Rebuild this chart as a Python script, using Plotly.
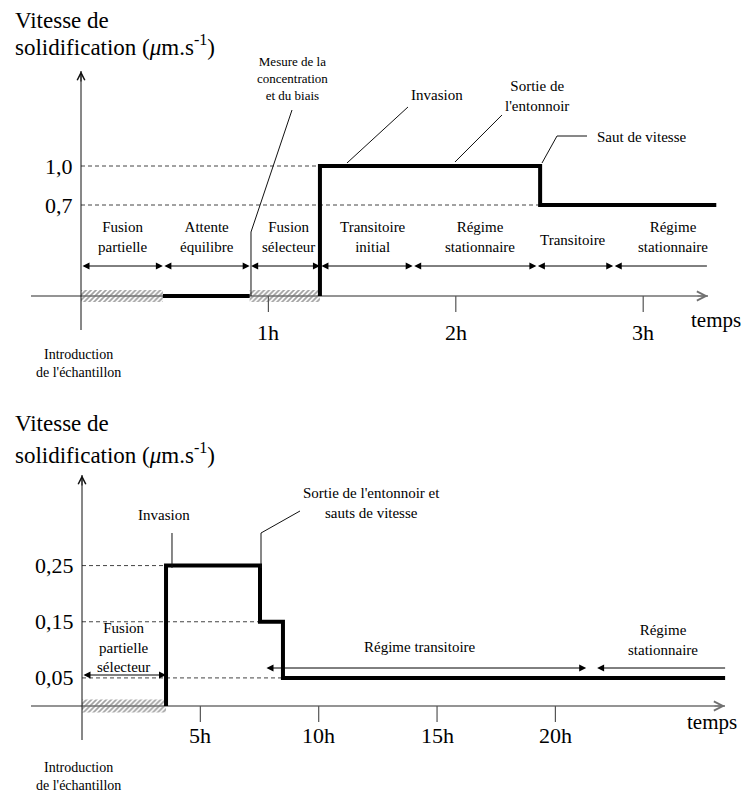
import plotly.graph_objects as go

W, H = 747, 792
FONT = "Liberation Serif, Times New Roman, serif"

# ---------------- top panel data (time in hours, speed in µm/s) ----------------
top_tick_hours = [1, 2, 3]
top_tick_labels = ["1h", "2h", "3h"]
top_levels = [1.0, 0.7]
top_level_labels = ["1,0", "0,7"]
top_level_reach = [1.275, 2.45]
top_wait_t = [0.437, 0.90]
top_wait_v = [0.0, 0.0]
top_run_t = [1.275, 1.275, 2.45, 3.39]
top_run_v = [0.0, 1.0, 0.7, 0.7]
top_melt_start = [0.0, 0.90]
top_melt_end = [0.437, 1.275]
top_phase_bounds = [0.0, 0.437, 0.90, 1.275, 1.77, 2.43, 2.84, 3.34]
top_phase_names = ["Fusion<br>partielle", "Attente<br>équilibre", "Fusion<br>sélecteur",
                   "Transitoire<br>initial", "Régime<br>stationnaire", "Transitoire",
                   "Régime<br>stationnaire"]
top_phase_centers = [0.219, 0.672, 1.105, 1.558, 2.129, 2.625, 3.159]

# ---------------- bottom panel data ----------------
bot_tick_hours = [5, 10, 15, 20]
bot_tick_labels = ["5h", "10h", "15h", "20h"]
bot_levels = [0.25, 0.15, 0.05]
bot_level_labels = ["0,25", "0,15", "0,05"]
bot_level_reach = [3.55, 7.52, 8.49]
bot_run_t = [3.55, 3.55, 7.52, 8.49, 27.17]
bot_run_v = [0.0, 0.25, 0.15, 0.05, 0.05]
bot_melt_start = [0.0]
bot_melt_end = [3.55]
bot_phase_start = [0.0, 7.73, 21.7]
bot_phase_end = [3.55, 21.3, 27.17]
bot_phase_names = ["Fusion<br>partielle<br>sélecteur", "Régime transitoire", "Régime<br>stationnaire"]
bot_phase_centers = [1.77, 14.28, 24.55]

# ---------------- geometry (pixels) ----------------
P_TOP = dict(xa="x", ya="y", x0=81, xs=187.4, y0=296, ys=130, dom=(0, 380),
             xaxis_px=(31, 708), yaxis_px=(330, 71), hatch_half=6, tick_lab_dy=36,
             arrow_y=[266] * 7, label_y=[237] * 5 + [240, 237], arrow_sides=["end+start"] * 6 + ["start"])
P_BOT = dict(xa="x2", ya="y2", x0=82, xs=23.67, y0=706, ys=561.7, dom=(400, 792),
             xaxis_px=(31, 725), yaxis_px=(740, 475), hatch_half=6.5, tick_lab_dy=29,
             arrow_y=[675, 668, 668], label_y=[647, 647, 640], arrow_sides=["end+start", "end+start", "start"])


def hx(p, px):
    return (px - p["x0"]) / p["xs"]


def vy(p, py):
    return (p["y0"] - py) / p["ys"]


def pp(px, py):
    return px / W, 1 - py / H


fig = go.Figure()
annotations = []
shapes = []


def add_panel(p, ticks, tick_labels, levels, level_labels, level_reach, runs,
              melt_s, melt_e, ph_s, ph_e, ph_names, ph_centers):
    xa, ya = p["xa"], p["ya"]
    common = dict(xaxis=xa, yaxis=ya, hoverinfo="skip", showlegend=False)
    # hatched melting zones
    h = p["hatch_half"] / p["ys"]
    for a, b in zip(melt_s, melt_e):
        fig.add_trace(go.Scatter(x=[a, b, b, a, a], y=[-h, -h, h, h, -h], mode="lines",
                                 fill="toself", fillcolor="white", line=dict(width=0),
                                 fillpattern=dict(shape="/", fgcolor="#444444", bgcolor="white",
                                                  size=3.5, solidity=0.5), **common))
    # dashed guides
    for lv, reach in zip(levels, level_reach):
        fig.add_trace(go.Scatter(x=[0, reach], y=[lv, lv], mode="lines",
                                 line=dict(color="#444", width=1, dash="4px,3px"), **common))
    # axes lines
    x_a, x_b = hx(p, p["xaxis_px"][0]), hx(p, p["xaxis_px"][1])
    fig.add_trace(go.Scatter(x=[x_a, x_b], y=[0, 0], mode="lines",
                             line=dict(color="#707070", width=1.5), **common))
    y_a, y_b = vy(p, p["yaxis_px"][0]), vy(p, p["yaxis_px"][1])
    fig.add_trace(go.Scatter(x=[0, 0], y=[y_a, y_b], mode="lines",
                             line=dict(color="#111", width=1), **common))
    # ticks
    tl = 16 / p["ys"]
    tx, ty = [], []
    for t in ticks:
        tx += [t, t, None]
        ty += [0, -tl, None]
    fig.add_trace(go.Scatter(x=tx, y=ty, mode="lines", line=dict(color="#555", width=1.2), **common))
    # speed curve
    for rt, rv, shape in runs:
        fig.add_trace(go.Scatter(x=rt, y=rv, mode="lines", line=dict(color="black", width=4, shape=shape),
                                 **common))
    # axis arrowheads
    annotations.append(dict(x=x_b, y=0, ax=hx(p, p["xaxis_px"][1] - 12), ay=0, xref=xa, yref=ya,
                            axref=xa, ayref=ya, text="", showarrow=True, arrowhead=5, arrowsize=1.5,
                            arrowwidth=1.2, arrowcolor="#707070"))
    annotations.append(dict(x=0, y=y_b, ax=0, ay=vy(p, p["yaxis_px"][1] + 12), xref=xa, yref=ya,
                            axref=xa, ayref=ya, text="", showarrow=True, arrowhead=5, arrowsize=1.5,
                            arrowwidth=1, arrowcolor="#111"))
    # tick labels
    for t, lab in zip(ticks, tick_labels):
        annotations.append(dict(x=t, y=0, xref=xa, yref=ya, text=lab, showarrow=False,
                                yshift=-p["tick_lab_dy"], font=dict(family=FONT, size=22, color="black")))
    # level labels
    for lv, lab in zip(levels, level_labels):
        annotations.append(dict(x=0, y=lv, xref=xa, yref=ya, text=lab, showarrow=False, xanchor="right",
                                xshift=-6, font=dict(family=FONT, size=22, color="black")))
    # phase arrows
    for a, b, ay_px, side in zip(ph_s, ph_e, p["arrow_y"], p["arrow_sides"]):
        yv = vy(p, ay_px)
        annotations.append(dict(x=b, y=yv, ax=a, ay=yv, xref=xa, yref=ya, axref=xa, ayref=ya, text="",
                                showarrow=True, arrowside=side, arrowhead=2, startarrowhead=2,
                                arrowsize=1.4, startarrowsize=1.4, arrowwidth=1, arrowcolor="black"))
    # phase labels
    for name, c, ly in zip(ph_names, ph_centers, p["label_y"]):
        annotations.append(dict(x=c, y=1 - ly / H, xref=xa, yref="paper", text=name, showarrow=False,
                                yanchor="middle", font=dict(family=FONT, size=15, color="black")))


add_panel(P_TOP, top_tick_hours, top_tick_labels, top_levels, top_level_labels, top_level_reach,
          [(top_wait_t, top_wait_v, "linear"), (top_run_t, top_run_v, "hv")],
          top_melt_start, top_melt_end, top_phase_bounds[:-1], top_phase_bounds[1:],
          top_phase_names, top_phase_centers)
add_panel(P_BOT, bot_tick_hours, bot_tick_labels, bot_levels, bot_level_labels, bot_level_reach,
          [(bot_run_t, bot_run_v, "hv")],
          bot_melt_start, bot_melt_end, bot_phase_start, bot_phase_end,
          bot_phase_names, bot_phase_centers)


def note(text, px, py, size, xanchor="center"):
    x, y = pp(px, py)
    annotations.append(dict(x=x, y=y, xref="paper", yref="paper", text=text, showarrow=False,
                            xanchor=xanchor, yanchor="middle",
                            font=dict(family=FONT, size=size, color="black")))


def leader(points):
    d = ""
    for i, (px, py) in enumerate(points):
        x, y = pp(px, py)
        d += ("M" if i == 0 else "L") + f"{x:.5f},{y:.5f} "
    shapes.append(dict(type="path", path=d.strip(), xref="paper", yref="paper",
                       line=dict(color="#111", width=1)))


title2 = "solidification (<i>μ</i>m.s<sup>-1</sup>)"
# top panel notes
note("Vitesse de", 13, 20, 23, "left")
note(title2, 13, 46, 23, "left")
note("Mesure de la<br>concentration<br>et du biais", 292, 79, 13)
note("Invasion", 437, 95, 15)
note("Sortie de<br>l'entonnoir", 537, 96, 15)
note("Saut de vitesse", 641, 137, 15)
note("temps", 716, 320, 21)
note("Introduction<br>de l'échantillon", 78, 364, 14)
leader([(292, 110), (251, 232), (251, 296)])
leader([(408, 107), (347, 163)])
leader([(502, 115), (455, 162)])
leader([(587, 136), (557, 136), (542, 163)])

# bottom panel notes
note("Vitesse de", 13, 423, 23, "left")
note(title2, 13, 453, 23, "left")
note("Invasion", 164, 515, 15)
note("Sortie de l'entonnoir et<br>sauts de vitesse", 371, 503, 15)
note("temps", 712, 722, 21)
note("Introduction<br>de l'échantillon", 78, 776, 14)
leader([(172, 533), (172, 568)])
leader([(300, 511), (261, 533), (261, 568)])

fig.update_layout(
    width=W, height=H, margin=dict(l=0, r=0, t=0, b=0),
    paper_bgcolor="white", plot_bgcolor="rgba(0,0,0,0)", showlegend=False,
    xaxis=dict(domain=[0, 1], range=[hx(P_TOP, 0), hx(P_TOP, W)], visible=False, anchor="y", fixedrange=True),
    yaxis=dict(domain=[1 - 380 / H, 1], range=[vy(P_TOP, 380), vy(P_TOP, 0)], visible=False, anchor="x",
               fixedrange=True),
    xaxis2=dict(domain=[0, 1], range=[hx(P_BOT, 0), hx(P_BOT, W)], visible=False, anchor="y2", fixedrange=True),
    yaxis2=dict(domain=[0, 1 - 400 / H], range=[vy(P_BOT, 792), vy(P_BOT, 400)], visible=False, anchor="x2",
                fixedrange=True),
    annotations=annotations, shapes=shapes,
)

fig.write_html("out.html", config={"displayModeBar": False},
               post_script="document.body.style.margin='0px';document.body.style.overflow='hidden';")
